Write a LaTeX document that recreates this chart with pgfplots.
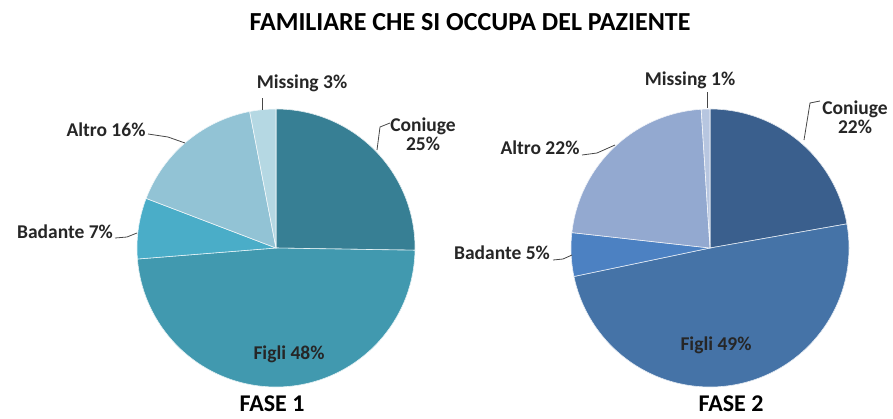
\documentclass[border=0pt]{standalone}
\usepackage{pgfplots}
\pgfplotsset{compat=1.18}
\usepackage{fontspec}
\setmainfont{Carlito}
\definecolor{aA}{HTML}{377F94}
\definecolor{aB}{HTML}{4199AF}
\definecolor{aC}{HTML}{4AADC8}
\definecolor{aD}{HTML}{92C3D5}
\definecolor{aE}{HTML}{B5D8E3}
\definecolor{bA}{HTML}{3A5F8D}
\definecolor{bB}{HTML}{4573A7}
\definecolor{bC}{HTML}{4C81C2}
\definecolor{bD}{HTML}{93A9D0}
\definecolor{bE}{HTML}{B7C6E0}
\definecolor{txt}{HTML}{262626}
% #1 cumulative before, #2 value (%), #3 total, #4 colour
\newcommand{\slice}[4]{%
  \pgfmathsetmacro\angA{90-((#1+#2)/#3)*360}%
  \pgfmathsetmacro\angB{90-(#1/#3)*360}%
  \edef\doslice{\noexpand\addplot[fill=#4, draw=white!85!#4, line width=0.6pt, domain=\angA:\angB, samples=80, smooth]
    ({cos(x)},{sin(x)}) -- (axis cs:0,0) -- cycle;}%
  \doslice}
\tikzset{lab/.style={text=txt, font=\bfseries\fontsize{19.5}{19}\selectfont, inner sep=0pt, align=center},
         lead/.style={draw=txt!85, line width=0.8pt}}
\begin{document}
\begin{tikzpicture}[x=1pt,y=1pt]
\useasboundingbox (0,0) rectangle (893,-418);
% FASE 1: Coniuge 25, Figli 48, Badante 7, Altro 16, Missing 3
\begin{axis}[at={(276pt,-248pt)}, anchor=center, x=139pt, y=139pt,
  xmin=-1, xmax=1, ymin=-1, ymax=1, hide axis, clip=false, scale only axis]
\slice{0}{25}{99}{aA}
\slice{25}{48}{99}{aB}
\slice{73}{7}{99}{aC}
\slice{80}{16}{99}{aD}
\slice{96}{3}{99}{aE}
\end{axis}
% FASE 2: Coniuge 22, Figli 49, Badante 5, Altro 22, Missing 1
\begin{axis}[at={(710pt,-248pt)}, anchor=center, x=139pt, y=139pt,
  xmin=-1, xmax=1, ymin=-1, ymax=1, hide axis, clip=false, scale only axis]
\slice{0}{22}{99}{bA}
\slice{22}{49}{99}{bB}
\slice{71}{5}{99}{bC}
\slice{76}{22}{99}{bD}
\slice{98}{1}{99}{bE}
\end{axis}
% title
\node[text=black, font=\bfseries\fontsize{26}{30}\selectfont, inner sep=0pt] at (470,-22) {FAMILIARE CHE SI OCCUPA DEL PAZIENTE};
\node[text=black, font=\bfseries\fontsize{24}{28}\selectfont, inner sep=0pt, anchor=base] at (272,-411) {FASE 1};
\node[text=black, font=\bfseries\fontsize{24}{28}\selectfont, inner sep=0pt, anchor=base] at (731,-411) {FASE 2};
% labels pie 1
\node[lab] at (302,-83) {Missing 3\%};
\node[lab] at (423,-134) {Coniuge\\25\%};
\node[lab] at (106,-130) {Altro 16\%};
\node[lab] at (65,-232) {Badante 7\%};
\node[lab] at (289,-354) {Figli 48\%};
\draw[lead] (262,-98) -- (262,-110);
\draw[lead] (377,-150) -- (380,-127) -- (390,-123);
\draw[lead] (148,-134) -- (168,-137) -- (185,-143);
\draw[lead] (115,-238) -- (127,-237) -- (137,-233);
% labels pie 2
\node[lab] at (690,-80) {Missing 1\%};
\node[lab] at (855,-117) {Coniuge\\22\%};
\node[lab] at (540,-148) {Altro 22\%};
\node[lab] at (502,-253) {Badante 5\%};
\node[lab] at (716,-345) {Figli 49\%};
\draw[lead] (707,-92) -- (707,-108);
\draw[lead] (804,-140) -- (810,-103) -- (820,-101);
\draw[lead] (582,-155) -- (597,-153) -- (615,-145);
\draw[lead] (553,-260) -- (563,-259) -- (572,-255);
\end{tikzpicture}
\end{document}
